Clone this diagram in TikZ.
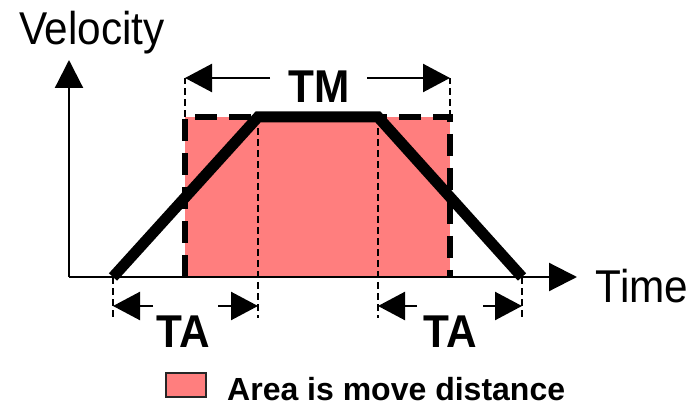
\documentclass[tikz,border=0pt]{standalone}
\usepackage{fontspec}
\setmainfont{Liberation Sans}
\usetikzlibrary{arrows.meta}
\definecolor{areared}{RGB}{255,126,126}
\newcommand\narrow[1]{\scalebox{0.92}[1]{#1}}
\tikzset{
  axisline/.style={line width=2.2pt,-{Triangle[length=28pt,width=28pt]}},
  dimline/.style={line width=2.4pt,-{Triangle[length=27pt,width=28pt]}},
  guide/.style={line width=1.4pt,dash pattern=on 7pt off 4pt},
  border/.style={line width=6pt,dash pattern=on 22pt off 12pt},
  profile/.style={line width=11pt,line join=miter},
  biglabel/.style={inner sep=0pt,anchor=base,font=\fontsize{46}{50}\selectfont},
  boldlabel/.style={inner sep=0pt,anchor=base,font=\fontsize{46}{50}\selectfont\bfseries},
  legendtext/.style={inner sep=0pt,anchor=base west,font=\fontsize{32}{36}\selectfont\bfseries},
}
\begin{document}
\begin{tikzpicture}[x=1pt,y=-1pt]
\useasboundingbox (0,0) rectangle (691,406);
% key points
\coordinate (O) at (69,277);
\coordinate (Ytip) at (69,60);
\coordinate (Xtip) at (577,277);
\coordinate (A) at (113,277);
\coordinate (B) at (258,117);
\coordinate (C) at (378,117);
\coordinate (D) at (522,277);
\coordinate (R1) at (185,117);
\coordinate (R2) at (450,117);
\coordinate (R3) at (450,277);
\coordinate (R4) at (185,277);
% area
\fill[areared] (R4) rectangle (R2);
% guide lines
\coordinate (g1t) at (185,78); \coordinate (g2t) at (450,78);
\coordinate (gA) at (113,318); \coordinate (gB) at (258,318);
\coordinate (gC) at (378,318); \coordinate (gD) at (522,318);
\draw[guide] (R1) -- (g1t);
\draw[guide] (R2) -- (g2t);
\draw[guide] (A) -- (gA);
\draw[guide] (B) -- (gB);
\draw[guide] (C) -- (gC);
\draw[guide] (D) -- (gD);
% dashed border
\draw[border] (R4) -- (R1) -- (R2) -- (R3);
% axes
\draw[axisline] (O) -- (Ytip);
\draw[axisline] (O) -- (Xtip);
% profile
\draw[profile] (A) -- (B) -- (C) -- (D);
% labels
\node[biglabel] (vel) at (92,45) {\narrow{Velocity}};
\node[biglabel] (time) at (642,302) {\narrow{Time}};
\node[boldlabel] (tm) at (319,103) {\narrow{TM}};
\node[boldlabel] (ta1) at (183,347) {\narrow{TA}};
\node[boldlabel] (ta2) at (450,347) {\narrow{TA}};
% dimension arrows
\coordinate (tmL) at (270,78); \coordinate (tmR) at (367,78);
\draw[dimline] (tmL) -- (g1t);
\draw[dimline] (tmR) -- (g2t);
\coordinate (a1) at (113,306); \coordinate (a1t) at (153,306);
\coordinate (b1) at (258,306); \coordinate (b1t) at (218,306);
\coordinate (a2) at (378,306); \coordinate (a2t) at (417,306);
\coordinate (b2) at (522,306); \coordinate (b2t) at (483,306);
\draw[dimline] (a1t) -- (a1);
\draw[dimline] (b1t) -- (b1);
\draw[dimline] (a2t) -- (a2);
\draw[dimline] (b2t) -- (b2);
% legend
\draw[line width=1.6pt,draw=black!85,fill=areared] (166,373) rectangle (206,397);
\node[legendtext] (leg) at (227,400) {Area is move distance};
\end{tikzpicture}
\end{document}
